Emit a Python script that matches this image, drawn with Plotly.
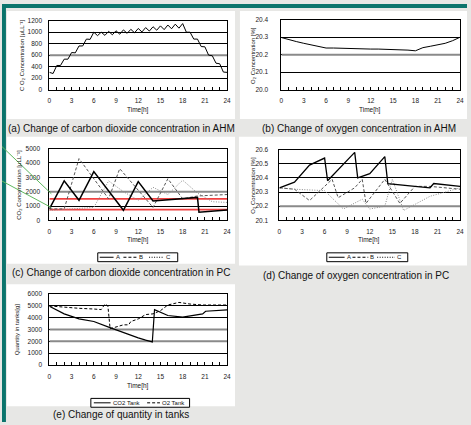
import plotly.graph_objects as go

W, H = 471, 425
FONT = "Liberation Sans, Arial, sans-serif"

# ---------------- data ----------------
# (a) CO2 concentration in AHM
a_time = [0, 0.5, 1, 1.5, 2, 2.5, 3, 3.5, 4, 4.5, 5, 5.5, 6, 6.5, 7, 7.5, 8, 8.5, 9, 9.5,
          10, 10.5, 11, 11.5, 12, 12.5, 13, 13.5, 14, 14.5, 15, 15.5, 16, 16.5, 17, 17.5,
          18, 18.5, 19, 19.5, 20, 20.5, 21, 21.5, 22, 22.5, 23, 23.5, 24]
a_co2 = [300, 280, 420, 420, 530, 530, 645, 640, 760, 760, 880, 875, 1000, 940, 1000, 945,
         1015, 955, 1025, 965, 1040, 980, 1050, 990, 1065, 1005, 1080, 1020, 1095, 1035,
         1110, 1045, 1125, 1060, 1140, 1070, 1150, 1000, 1000, 880, 880, 750, 745, 600,
         590, 460, 450, 305, 300]

# (b) O2 concentration in AHM
b_time = list(range(25))
b_o2 = [20.298, 20.285, 20.275, 20.265, 20.255, 20.245, 20.238, 20.238, 20.236, 20.234,
        20.233, 20.233, 20.232, 20.232, 20.231, 20.229, 20.228, 20.226, 20.222, 20.240,
        20.248, 20.255, 20.265, 20.280, 20.300]

# (c) CO2 concentration in PC
c_A_time = [0, 2, 4, 6, 10, 12, 14, 20, 20.2, 24]
c_A = [800, 2750, 1400, 3400, 700, 2700, 1350, 1600, 570, 730]
c_B_time = [0, 2, 4, 8, 9.5, 14, 16, 18, 20, 22, 24]
c_B = [800, 800, 4300, 1500, 3600, 900, 2900, 1500, 1700, 1750, 1800]
c_C_time = [0, 2, 4, 6, 8, 10, 12, 14, 16, 18, 20, 22, 24]
c_C = [700, 750, 800, 900, 2750, 2000, 1400, 2300, 1800, 2800, 1900, 1300, 1250]
c_limits = [1500, 750]

# (d) O2 concentration in PC
d_A_time = [0, 2, 4, 6, 6.4, 10, 10.4, 12, 14, 14.4, 18, 20, 20.5, 24]
d_A = [20.33, 20.37, 20.49, 20.54, 20.38, 20.58, 20.40, 20.43, 20.55, 20.36, 20.34, 20.33, 20.36, 20.34]
d_B_time = [0, 2, 4, 7, 7.8, 10, 11, 11.5, 14, 16, 18, 20, 24]
d_B = [20.33, 20.32, 20.24, 20.39, 20.26, 20.33, 20.39, 20.22, 20.39, 20.22, 20.34, 20.34, 20.32]
d_C_time = [0, 2, 6, 8.5, 11, 12, 14, 15, 16.5, 20, 24]
d_C = [20.33, 20.32, 20.31, 20.18, 20.25, 20.18, 20.20, 20.39, 20.17, 20.27, 20.33]

# (e) quantity in tanks
e_time_co2 = [0, 2, 4, 6, 8, 10, 12, 13, 13.9, 14.2, 16, 18, 20, 20.7, 21.1, 24]
e_co2 = [4970, 4330, 3900, 3680, 3210, 2735, 2290, 2100, 1950, 4690, 4190, 4050, 4240, 4330, 4550, 4660]
e_time_o2 = [0, 2, 4, 6, 7, 7.5, 7.9, 8.2, 10, 10.7, 11, 12, 13, 14, 15, 16, 17.5, 19, 20.7, 24]
e_o2 = [5000, 4880, 4800, 4740, 4690, 5160, 5000, 3070, 3400, 3400, 3680, 3900, 4270, 4330, 4600,
        5080, 5300, 5160, 5080, 5080]

x_tickvals = [0, 3, 6, 9, 12, 15, 18, 21, 24]

# ---------------- figure ----------------
fig = go.Figure()

DASH = "3px,2px"
DOT = "1px,1.5px"

def line(x, y, xa, ya, color="black", width=1, dash="solid"):
    fig.add_trace(go.Scatter(x=x, y=y, mode="lines", xaxis=xa, yaxis=ya,
                             line=dict(color=color, width=width, dash=dash),
                             showlegend=False, hoverinfo="skip"))

line(a_time, a_co2, "x", "y")
line(b_time, b_o2, "x2", "y2")
for v in c_limits:
    line([0, 24], [v, v], "x3", "y3", color="#f04040", width=1.8)
line(c_C_time, c_C, "x3", "y3", color="#8a8a8a", width=1, dash=DOT)
line(c_B_time, c_B, "x3", "y3", color="#555", width=1, dash=DASH)
line(c_A_time, c_A, "x3", "y3", color="black", width=1.5)
line(d_C_time, d_C, "x4", "y4", color="#8a8a8a", width=1, dash=DOT)
line(d_B_time, d_B, "x4", "y4", color="#555", width=1, dash=DASH)
line(d_A_time, d_A, "x4", "y4", color="black", width=1.3)
line(e_time_o2, e_o2, "x5", "y5", color="black", width=1, dash=DASH)
line(e_time_co2, e_co2, "x5", "y5", color="black", width=1.2)

def px(x0, x1):
    return [x0 / W, x1 / W]

def py(top, bottom):
    return [1 - bottom / H, 1 - top / H]

tickfont = dict(family=FONT, size=6.5, color="#222")

def xax(dom, anchor):
    return dict(domain=dom, anchor=anchor, range=[0, 24], tickvals=x_tickvals,
                ticks="inside", ticklen=3, tickcolor="black", tickwidth=1,
                minor=dict(dtick=1, tick0=0, ticks="inside", ticklen=3, tickcolor="black",
                           tickwidth=1, showgrid=False),
                showline=True, mirror=True, linecolor="black", linewidth=1,
                showgrid=False, zeroline=False, tickfont=tickfont, ticklabelstandoff=5,
                fixedrange=True)

def yax(dom, anchor, rng, dtick, standoff, fmt=None):
    d = dict(domain=dom, anchor=anchor, range=rng, dtick=dtick, tick0=rng[0],
             ticks="", showline=True, mirror=True, linecolor="black", linewidth=1,
             showgrid=True, gridcolor="black", gridwidth=1, zeroline=False,
             tickfont=tickfont, ticklabelstandoff=standoff, fixedrange=True)
    if fmt:
        d["tickformat"] = fmt
    return d

fig.update_layout(
    width=W, height=H, margin=dict(l=0, r=0, t=0, b=0),
    paper_bgcolor="#e7e7e5", plot_bgcolor="white",
    font=dict(family=FONT, color="#111"),
    showlegend=False,
    xaxis=xax(px(48, 228), "y"),
    yaxis=yax(py(17, 87), "x", [0, 1200], 200, 5),
    xaxis2=xax(px(283, 464), "y2"),
    yaxis2=yax(py(16, 87), "x2", [20.0, 20.4], 0.1, 11, ".1f"),
    xaxis3=xax(px(48, 228), "y3"),
    yaxis3=yax(py(147, 220), "x3", [0, 5000], 1000, 7),
    xaxis4=xax(px(281, 464), "y4"),
    yaxis4=yax(py(148, 220), "x4", [20.1, 20.6], 0.1, 9, ".1f"),
    xaxis5=xax(px(48, 228), "y5"),
    yaxis5=yax(py(295, 367), "x5", [0, 6000], 1000, 5),
)

shapes = []
# teal frame bands
shapes.append(dict(type="rect", xref="paper", yref="paper", x0=0, x1=1, y0=1 - 4 / H, y1=1,
                   fillcolor="#0b746c", line=dict(width=0), layer="below"))
shapes.append(dict(type="rect", xref="paper", yref="paper", x0=0, x1=4 / W, y0=0, y1=1,
                   fillcolor="#0b746c", line=dict(width=0), layer="below"))
# white panels
for (x0, y0, x1, y1) in [(5, 7, 236, 117), (241, 7, 471, 117), (5, 135, 236, 264),
                         (240, 135, 471, 266), (5, 285, 236, 409)]:
    shapes.append(dict(type="rect", xref="paper", yref="paper", x0=x0 / W, x1=x1 / W,
                       y0=1 - y1 / H, y1=1 - y0 / H, fillcolor="white",
                       line=dict(width=0), layer="below"))
# grey-looking gridlines
for xr, yr, v in [("x", "y", 600), ("x2", "y2", 20.2), ("x3", "y3", 2000),
                  ("x4", "y4", 20.2), ("x5", "y5", 3000), ("x5", "y5", 2000)]:
    shapes.append(dict(type="line", xref=xr, yref=yr, x0=0, x1=24, y0=v, y1=v,
                       line=dict(color="#8a8a8a", width=2), layer="between"))
# green callout lines
for (x0, y0, x1, y1) in [(0, 145, 50, 193), (0, 180, 50, 207)]:
    shapes.append(dict(type="line", xref="paper", yref="paper", x0=x0 / W, x1=x1 / W,
                       y0=1 - y0 / H, y1=1 - y1 / H, line=dict(color="#5fb75f", width=1)))

# manual legends
def legend_box(x0, y0, x1, y1):
    shapes.append(dict(type="rect", xref="paper", yref="paper", x0=x0 / W, x1=x1 / W,
                       y0=1 - y1 / H, y1=1 - y0 / H, fillcolor="white",
                       line=dict(color="black", width=1)))

def legend_line(x0, x1, y, dash, color="black"):
    shapes.append(dict(type="line", xref="paper", yref="paper", x0=x0 / W, x1=x1 / W,
                       y0=1 - y / H, y1=1 - y / H, line=dict(color=color, width=1, dash=dash)))

annotations = []

def text(x, y, s, size=6, xanchor="left", angle=0, yanchor="middle"):
    annotations.append(dict(x=x / W, y=1 - y / H, xref="paper", yref="paper", text=s,
                            showarrow=False, xanchor=xanchor, yanchor=yanchor,
                            textangle=angle, font=dict(family=FONT, size=size, color="#111")))

legend_box(97, 253, 178, 262)
legend_line(99, 113, 257.5, "solid")
text(113, 257.5, "A")
legend_line(123, 137, 257.5, DASH)
text(137, 257.5, "B")
legend_line(149, 164, 257.5, DOT)
text(164, 257.5, "C")

legend_box(329, 253, 411, 262)
legend_line(331, 347, 257.5, "solid")
text(347, 257.5, "A")
legend_line(355, 371, 257.5, DASH)
text(371, 257.5, "B")
legend_line(380, 398, 257.5, DOT)
text(398, 257.5, "C")

legend_box(90, 401, 190, 410)
legend_line(93, 110, 405.5, "solid")
text(110, 405.5, "CO2 Tank")
legend_line(147, 160, 405.5, DASH)
text(160, 405.5, "O2 Tank")

# axis titles
for xc, yc in [(138, 108), (373, 108), (138, 240), (372, 240), (138, 388)]:
    text(xc, yc, "Time[h]", size=6.5, xanchor="center")
text(20, 52, "C O₂ Concentration [μLL⁻¹]", size=6, xanchor="center", angle=-90)
text(254, 52, "O₂ Concentration [%]", size=6, xanchor="center", angle=-90)
text(17, 184, "CO₂ Concentration [μLL⁻¹]", size=6, xanchor="center", angle=-90)
text(254, 184, "O₂ Concentration [%]", size=6, xanchor="center", angle=-90)
text(15, 331, "Quantity in tanks[g]", size=6, xanchor="center", angle=-90)

# captions
text(121, 126.5, "(a) Change of carbon dioxide concentration in AHM", size=10, xanchor="center")
text(362, 127, "(b) Change of oxygen concentration in AHM", size=10, xanchor="center")
text(121, 273, "(c) Change of carbon dioxide concentration in PC", size=10, xanchor="center")
text(359, 276, "(d) Change of oxygen concentration in PC", size=10, xanchor="center")
text(121, 417, "(e) Change of quantity in tanks", size=10, xanchor="center")

fig.update_layout(shapes=shapes, annotations=annotations)

fig.write_html("out.html", config={"displayModeBar": False, "staticPlot": True},
               post_script="document.body.style.margin='0';document.body.style.overflow='hidden';")
